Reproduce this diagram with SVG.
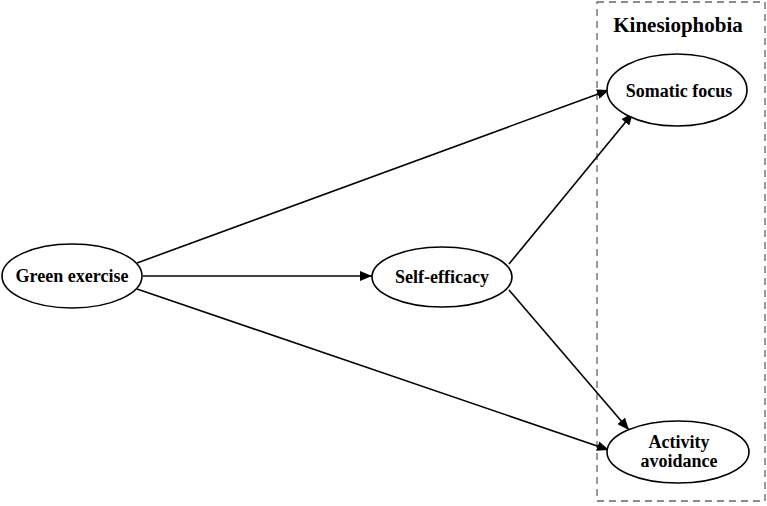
<svg xmlns="http://www.w3.org/2000/svg" width="767" height="506" viewBox="0 0 767 506">
<style>
.node{fill:#fff;stroke:#000;stroke-width:1.6}
.lbl{font-family:"Liberation Serif",serif;font-weight:bold;font-size:18px;fill:#000;text-anchor:middle}
.edge{stroke:#000;stroke-width:1.6;fill:none;marker-end:url(#ah)}
</style>
<defs>
<marker id="ah" viewBox="0 0 12 10" refX="12" refY="5" markerWidth="12" markerHeight="10" markerUnits="userSpaceOnUse" orient="auto">
<path d="M0,0 L12,5 L0,10 Z" fill="#000"/>
</marker>
</defs>
<rect width="767" height="506" fill="#fff"/>
<g id="kinesiophobia-box">
<rect x="597" y="2" width="168" height="499" fill="none" stroke="#666" stroke-width="1.3" stroke-dasharray="7,5"/>
<text x="678" y="32" font-family="Liberation Serif,serif" font-weight="bold" font-size="21" text-anchor="middle">Kinesiophobia</text>
</g>
<g id="connectors">
<line class="edge" x1="137" y1="263" x2="609" y2="90"/>
<line class="edge" x1="143" y1="276" x2="372" y2="276"/>
<line class="edge" x1="137" y1="289" x2="609" y2="450"/>
<line class="edge" x1="509" y1="264" x2="633" y2="113"/>
<line class="edge" x1="509" y1="290" x2="629" y2="430"/>
</g>
<g id="green-exercise">
<ellipse class="node" cx="72" cy="276" rx="70" ry="32"/>
<text class="lbl" x="72" y="282">Green exercise</text>
</g>
<g id="self-efficacy">
<ellipse class="node" cx="442" cy="277" rx="70" ry="30"/>
<text class="lbl" x="442" y="283">Self-efficacy</text>
</g>
<g id="somatic-focus">
<ellipse class="node" cx="677" cy="90" rx="70" ry="36"/>
<text class="lbl" x="679" y="97">Somatic focus</text>
</g>
<g id="activity-avoidance">
<ellipse class="node" cx="678" cy="452" rx="71" ry="31"/>
<text class="lbl" x="679" y="448">Activity</text>
<text class="lbl" x="679" y="467">avoidance</text>
</g>
</svg>
